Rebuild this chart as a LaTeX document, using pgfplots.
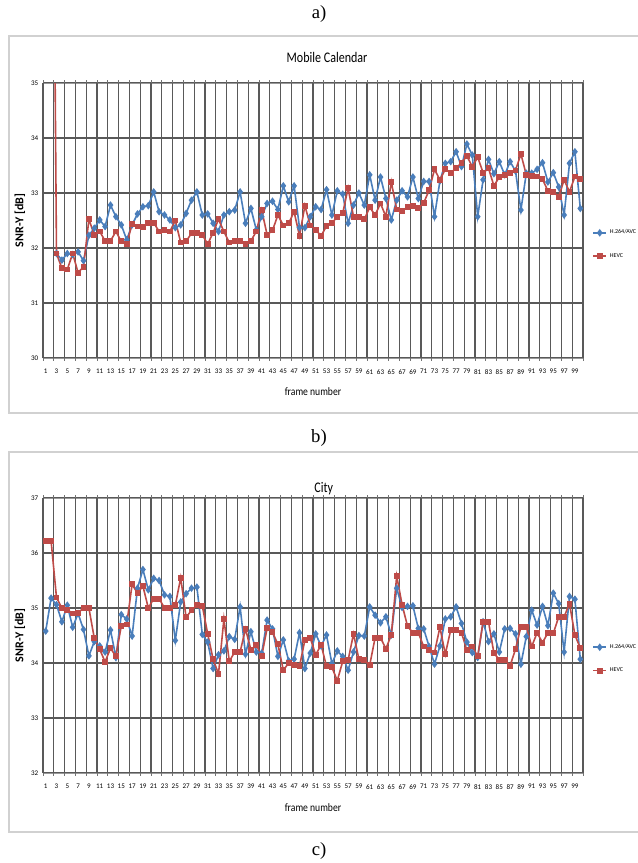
\documentclass[border=0pt]{standalone}
\usepackage{pgfplots}
\pgfplotsset{compat=1.18}
\usepackage{pgfplotstable}
\usepackage{fontspec}
\setmainfont{Carlito}
\newfontfamily\seriffont{Liberation Serif}
\definecolor{hblue}{HTML}{4A7EBB}
\definecolor{hred}{HTML}{BE4B48}

\pgfplotstableread{
f h v
1 nan 44.2
2 nan 44.3
3 31.90 31.90
4 31.78 31.63
5 31.90 31.61
6 31.88 31.90
7 31.93 31.55
8 31.77 31.66
9 32.23 32.52
10 32.36 32.24
11 32.51 32.30
12 32.39 32.13
13 32.78 32.13
14 32.57 32.30
15 32.42 32.12
16 32.15 32.07
17 32.42 32.44
18 32.62 32.39
19 32.75 32.38
20 32.77 32.46
21 33.02 32.46
22 32.66 32.30
23 32.60 32.33
24 32.51 32.30
25 32.37 32.50
26 32.42 32.10
27 32.63 32.12
28 32.87 32.27
29 33.02 32.28
30 32.60 32.24
31 32.62 32.07
32 32.45 32.28
33 32.30 32.52
34 32.60 32.30
35 32.66 32.10
36 32.69 32.13
37 33.02 32.13
38 32.45 32.07
39 32.72 32.13
40 32.33 32.30
41 32.57 32.69
42 32.81 32.24
43 32.85 32.32
44 32.70 32.60
45 33.13 32.41
46 32.84 32.45
47 33.13 32.66
48 32.37 32.22
49 32.37 32.77
50 32.57 32.41
51 32.75 32.33
52 32.70 32.22
53 33.06 32.40
54 32.60 32.45
55 33.04 32.57
56 32.98 32.63
57 32.45 33.09
58 32.78 32.57
59 33.00 32.57
60 32.78 32.52
61 33.33 32.74
62 32.87 32.60
63 33.29 32.81
64 32.90 32.57
65 32.51 33.20
66 32.87 32.70
67 33.04 32.68
68 32.93 32.74
69 33.29 32.76
70 32.90 32.72
71 33.21 32.82
72 33.21 33.05
73 32.57 33.43
74 33.22 33.24
75 33.54 33.43
76 33.57 33.37
77 33.75 33.45
78 33.48 33.55
79 33.89 33.67
80 33.69 33.48
81 32.57 33.65
82 33.24 33.37
83 33.61 33.45
84 33.35 33.13
85 33.57 33.29
86 33.33 33.33
87 33.57 33.36
88 33.40 33.41
89 32.69 33.71
90 33.36 33.33
91 33.36 33.31
92 33.43 33.30
93 33.55 33.25
94 33.20 33.04
95 33.37 33.02
96 33.11 32.93
97 32.60 33.24
98 33.54 33.02
99 33.75 33.30
100 32.72 33.25
}\tabA

\pgfplotstableread{
f h v
1 34.58 36.22
2 35.18 36.22
3 35.06 35.19
4 34.75 35.00
5 35.05 34.97
6 34.65 34.90
7 34.90 34.91
8 34.61 35.00
9 34.13 35.00
10 34.39 34.45
11 34.31 34.25
12 34.20 34.02
13 34.60 34.27
14 34.10 34.12
15 34.88 34.68
16 34.80 34.70
17 34.49 35.43
18 35.36 35.27
19 35.70 35.40
20 35.33 35.00
21 35.54 35.17
22 35.50 35.17
23 35.24 35.00
24 35.21 35.00
25 34.41 35.05
26 35.11 35.55
27 35.26 34.83
28 35.36 34.96
29 35.38 35.05
30 34.52 35.04
31 34.38 34.53
32 33.90 34.07
33 34.15 33.80
34 34.22 34.80
35 34.48 34.03
36 34.43 34.20
37 35.02 34.20
38 34.16 34.62
39 34.57 34.24
40 34.20 34.33
41 34.18 34.13
42 34.78 34.63
43 34.62 34.56
44 34.12 34.34
45 34.42 33.87
46 34.04 34.00
47 34.07 33.96
48 34.55 33.94
49 33.90 34.42
50 34.18 34.45
51 34.53 34.15
52 34.31 34.33
53 34.51 33.94
54 33.99 33.92
55 34.22 33.68
56 34.12 34.03
57 33.87 34.05
58 34.20 34.53
59 34.50 34.07
60 34.49 34.05
61 35.02 33.96
62 34.87 34.46
63 34.73 34.46
64 34.84 34.26
65 34.51 34.51
66 35.36 35.58
67 35.01 35.06
68 35.03 34.67
69 35.04 34.55
70 34.63 34.55
71 34.62 34.30
72 34.30 34.23
73 33.98 34.19
74 34.31 34.65
75 34.80 34.16
76 34.84 34.60
77 35.02 34.60
78 34.72 34.55
79 34.38 34.23
80 34.19 34.30
81 34.10 34.12
82 34.75 34.75
83 34.39 34.75
84 34.53 34.18
85 34.20 34.06
86 34.62 34.06
87 34.63 33.95
88 34.53 34.25
89 33.98 34.66
90 34.48 34.66
91 34.96 34.30
92 34.69 34.55
93 35.03 34.37
94 34.68 34.55
95 35.27 34.54
96 35.08 34.84
97 34.20 34.84
98 35.21 35.08
99 35.16 34.51
100 34.07 34.27
}\tabB

\pgfplotsset{
  panel/.style={
    scale only axis, width=405pt, height=206.25pt, anchor=south west,
    xmin=0.5, xmax=100.5,
    xtick={1,3,...,99},
    tick align=outside,
    major tick length=0pt,
    extra x ticks={0.5,2.5,...,100.5},
    extra x tick style={xmajorgrids=true, major tick length=2pt, xticklabel={}},
    ymajorgrids=true,
    ytick distance=1,
    major grid style={black!65, line width=0.9pt},
    tick style={black!55, line width=0.5pt},
    axis line style={black!40, line width=0.6pt},
    tick label style={font=\fontsize{5.3}{6}\selectfont, /pgf/number format/assume math mode=true},
    xticklabel style={yshift=-5pt},
    xlabel={\scalebox{0.85}[1]{\fontsize{8.5}{10}\selectfont frame number}},
    xlabel style={at={(axis description cs:0.5,-0.124)}, anchor=center},
    ylabel={SNR-Y [dB]},
    ylabel style={at={(axis description cs:-0.0426,0.5)}, anchor=center, font=\fontsize{9}{10}\selectfont\bfseries},
    title style={yshift=0pt, anchor=center},
    legend style={anchor=west, draw=none, fill=none, inner sep=0pt,
      font=\fontsize{4.5}{5}\selectfont, row sep=9pt},
    legend cell align=left,
    legend image code/.code={\draw[mark repeat=2,mark phase=2] plot coordinates {(0pt,0pt) (5pt,0pt) (10pt,0pt)};},
    unbounded coords=discard,
  },
  hser/.style={hblue, line width=1.2pt, mark=diamond*, mark size=1.9pt, mark options={solid}},
  vser/.style={hred, line width=1.2pt, mark=square*, mark size=1.6pt, mark options={solid}},
}

\begin{document}
\begin{tikzpicture}
\useasboundingbox (0,0) rectangle (478.5pt,-647.25pt);
\fill[white] (0,0) rectangle (478.5pt,-647.25pt);
\draw[black!18, line width=0.9pt] (6.75pt,-27pt) rectangle (482pt,-309.75pt);
\draw[black!18, line width=0.9pt] (6.75pt,-339pt) rectangle (482pt,-624pt);
\node[font=\seriffont\fontsize{14}{16}\selectfont] at (239.25pt,-10.5pt) {a)};
\node[font=\seriffont\fontsize{14}{16}\selectfont] at (239.25pt,-328.5pt) {b)};
\node[font=\seriffont\fontsize{14}{16}\selectfont] at (239.25pt,-638.25pt) {c)};

\begin{axis}[panel, at={(32.25pt,-268.5pt)}, ymin=30, ymax=35,
  title={\scalebox{0.82}[1]{\fontsize{11}{13}\selectfont Mobile Calendar}},
  title style={at={(axis description cs:0.526,1.062)}},
  legend style={at={(axis description cs:1.0167,0.413)}}]
\addplot[hser] table[x=f,y=h]{\tabA};
\addplot[vser] table[x=f,y=v]{\tabA};
\legend{H.264/AVC, HEVC}
\end{axis}

\begin{axis}[panel, at={(32.25pt,-579.75pt)}, ymin=32, ymax=37,
  title={\scalebox{0.82}[1]{\fontsize{11}{13}\selectfont City}},
  title style={at={(axis description cs:0.52,1.005)}},
  legend style={at={(axis description cs:1.0167,0.415)}}]
\addplot[hser] table[x=f,y=h]{\tabB};
\addplot[vser] table[x=f,y=v]{\tabB};
\legend{H.264/AVC, HEVC}
\end{axis}
\end{tikzpicture}
\end{document}
